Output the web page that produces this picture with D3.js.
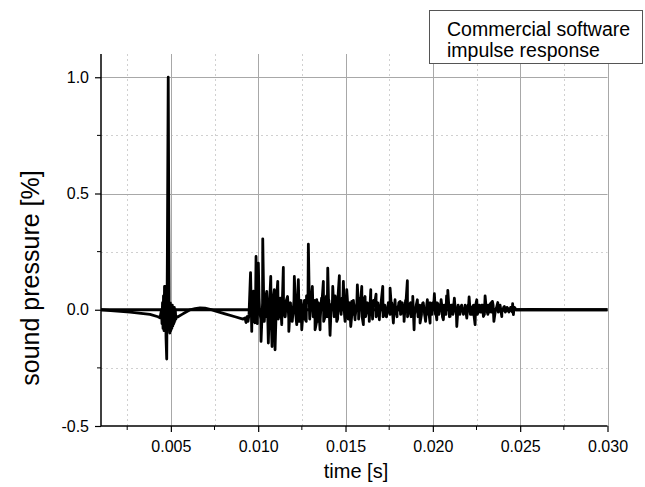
<!DOCTYPE html>
<html><head><meta charset="utf-8">
<script src="https://cdn.jsdelivr.net/npm/d3@7"></script>
<style>body{margin:0;background:#fff}svg text{font-family:"Liberation Sans",Arial,sans-serif;fill:#000}</style>
</head><body><svg id="c" width="645" height="487"></svg>
<script>
// main trace: time in milliseconds, sound pressure (fraction of peak)
const timeMs = [
1.000,2.661,3.806,4.264,4.379,4.465,4.493,4.522,4.551,4.579,4.608,4.637,4.665,4.694,4.723,4.763,4.797,4.849,4.906,4.940,
4.969,4.997,5.026,5.055,5.083,5.112,5.141,5.169,5.198,5.227,5.255,5.284,5.324,5.410,5.639,5.868,6.097,6.383,6.670,6.956,
7.242,7.529,8.101,8.674,9.132,9.247,9.304,9.361,9.419,9.476,
9.562,9.631,9.734,9.820,9.877,9.934,10.009,10.077,10.163,10.261,10.335,10.404,10.440,10.490,10.581,10.650,10.719,10.793,10.850,10.925,
10.965,11.051,11.120,11.194,11.263,11.349,11.440,11.526,11.612,11.681,11.755,11.853,11.939,12.070,12.139,12.208,12.299,12.397,12.494,12.586,
12.683,12.769,12.872,12.941,13.027,13.101,13.170,13.256,13.353,13.439,13.542,13.628,13.731,13.828,13.914,13.983,14.046,14.115,14.183,14.269,
14.344,14.401,14.498,14.573,14.648,14.745,14.802,14.877,14.928,14.974,15.071,15.146,15.231,15.300,15.358,15.432,15.547,15.678,15.747,15.833,
15.930,16.022,16.119,16.205,16.291,16.360,16.446,16.520,16.606,16.749,16.835,16.938,17.036,17.133,17.207,17.322,17.436,17.551,17.637,17.740,
17.837,17.952,18.038,18.124,18.238,18.353,18.439,18.542,18.639,18.725,18.851,18.926,19.011,19.114,19.183,19.269,19.355,19.424,19.527,19.584,
19.687,19.756,19.842,19.928,20.002,20.088,20.157,20.226,20.329,20.472,20.541,20.603,20.701,20.787,20.855,20.930,20.987,21.102,21.233,21.302,
21.371,21.474,21.617,21.732,21.846,21.943,22.018,22.075,22.161,22.247,22.333,22.419,22.516,22.619,22.705,22.791,22.894,22.992,23.077,23.163,
23.249,23.335,23.410,23.496,23.593,23.719,23.822,23.948,24.023,24.097,24.194,24.309,24.423,24.567,24.612,24.681,24.767,25.569,27.287,30.000
];
const pressure = [
0,-0.01,-0.02,-0.03,-0.035,0,-0.06,0.03,-0.08,0.06,-0.09,0.1,-0.08,0.1,-0.12,-0.212,0.2,1.0,-0.05,-0.1,
0.03,-0.09,0.02,-0.08,0.02,-0.07,0.01,-0.06,0.01,-0.05,0,-0.04,-0.03,-0.03,-0.02,-0.01,0,0.005,0.008,0.007,
0.002,-0.005,-0.018,-0.03,-0.04,-0.035,-0.055,-0.03,-0.05,-0.02,
0.16,-0.093,0.08,-0.056,0.229,-0.04,0.2,0,-0.136,0.305,-0.05,0.02,-0.03,0.079,-0.143,0.04,0.143,-0.158,0.02,0.086,
-0.172,0.05,0.122,-0.02,0.05,-0.064,0.182,-0.03,0.04,0.057,-0.093,0.02,-0.05,0.143,0,-0.064,0.129,0,-0.086,0.009,
-0.04,0.06,0.282,-0.02,0.05,0.1,-0.03,-0.086,0.043,-0.05,-0.086,0.05,0.122,-0.03,0.06,0.179,-0.02,-0.11,0.02,0.1,
-0.02,0.06,-0.05,0.06,0.147,-0.02,0.05,0.122,0,-0.05,0.086,0,0.03,-0.072,0.036,-0.02,-0.043,0.107,0,0.05,
0.1,-0.064,0.057,-0.01,0.02,-0.05,0.086,0,0.04,0.067,-0.01,-0.043,0.03,0.1,0,-0.029,0.02,0.093,0,-0.057,
0.043,-0.01,0.02,0.036,-0.01,-0.05,0.04,0.125,0,0.03,0.057,-0.086,0,0.043,-0.02,-0.057,0.01,0.029,-0.02,-0.05,
0.043,0,-0.057,0.02,0.03,0.069,0,-0.043,0.02,0.043,0,-0.043,0.02,0.06,0.083,0,-0.029,0.02,0.05,0,
-0.072,0,0.014,-0.01,0.01,-0.036,0.02,0.055,0,-0.02,0.02,-0.064,0.043,0,-0.01,0.02,-0.029,0.06,0,0.02,
-0.01,0.03,0.036,-0.05,0,0.031,0,-0.029,0,0.014,-0.005,0.005,0,0.026,-0.021,0.01,0,0.001,0,0
];
// fine ripple (samples every 0.1 ms from 9.65 ms)
const rippleStartMs = 9.65, rippleStepMs = 0.1;
const rippleValues = [
0.04,-0.05,0.03,-0.06,0.05,-0.04,0.03,-0.05,0.06,-0.04,0.02,-0.05,0.04,-0.03,0.05,
-0.04,0.03,-0.05,0.04,-0.03,0.05,-0.04,0.03,-0.05,0.04,-0.02,0.03,-0.05,0.04,-0.03,
0.04,-0.05,0.03,-0.04,0.05,-0.03,0.04,-0.05,0.03,-0.04,0.03,-0.05,0.04,-0.03,0.04,
-0.04,0.03,-0.03,0.04,-0.04,0.03,-0.02,0.04,-0.03,0.03,-0.04,0.02,-0.03,0.04,-0.03,
0.03,-0.04,0.02,-0.03,0.04,-0.03,0.03,-0.02,0.03,-0.04,0.02,-0.03,0.03,-0.02,0.04,
-0.03,0.02,-0.03,0.03,-0.02,0.03,-0.04,0.02,-0.03,0.03,-0.02,0.03,-0.03,0.02,-0.03,
0.02,-0.03,0.03,-0.02,0.02,-0.03,0.02,-0.02,0.03,-0.03,0.02,-0.02,0.03,-0.02,0.02,
-0.02,0.03,-0.02,0.02,-0.03,0.02,-0.02,0.02,-0.03,0.02,-0.02,0.03,-0.02,0.02,-0.02,
0.02,-0.02,0.02,-0.03,0.02,-0.02,0.01,-0.02,0.02,-0.02,0.02,-0.01,0.02,-0.02,0.01,
-0.02,0.02,-0.01,0.02,-0.02,0.01,-0.01,0.02,-0.01,0.01,-0.01,0.01,-0.01,0.01,-0.01,
0.01
];
// zero reference trace
const baselineTimeMs = [1.0, 30.0];
const baselineValues = [0, 0];

const xDomain = [0.001, 0.030];
const yDomain = [-0.5, 1.1];
const xMajorTicks = [0.005, 0.010, 0.015, 0.020, 0.025, 0.030];
const xMinorTicks = [0.0025, 0.0075, 0.0125, 0.0175, 0.0225, 0.0275];
const yMajorTicks = [-0.5, 0.0, 0.5, 1.0];
const yMinorTicks = [-0.25, 0.25, 0.75];
const legendLines = ["Commercial software", "impulse response"];
const xTitle = "time [s]";
const yTitle = "sound pressure  [%]";

const svg = d3.select("#c");
const L = 101, R = 607.5, T = 54, B = 426;
const x = d3.scaleLinear().domain(xDomain).range([L, R]);
const y = d3.scaleLinear().domain(yDomain).range([B, T]);

// grid
const g = svg.append("g");
g.selectAll(".gxm").data(xMinorTicks).join("line")
  .attr("x1", d => Math.round(x(d)) + 0.5).attr("x2", d => Math.round(x(d)) + 0.5)
  .attr("y1", T).attr("y2", B).attr("stroke", "#d0d0d0").attr("stroke-dasharray", "2,3");
g.selectAll(".gym").data(yMinorTicks).join("line")
  .attr("y1", d => Math.round(y(d)) + 0.5).attr("y2", d => Math.round(y(d)) + 0.5)
  .attr("x1", L).attr("x2", R).attr("stroke", "#d0d0d0").attr("stroke-dasharray", "2,3");
g.selectAll(".gx").data(xMajorTicks).join("line")
  .attr("x1", d => Math.round(x(d)) + 0.5).attr("x2", d => Math.round(x(d)) + 0.5)
  .attr("y1", T).attr("y2", B).attr("stroke", "#a8a8a8");
g.selectAll(".gy").data(yMajorTicks.filter(d => d > -0.5)).join("line")
  .attr("y1", d => Math.round(y(d)) + 0.5).attr("y2", d => Math.round(y(d)) + 0.5)
  .attr("x1", L).attr("x2", R).attr("stroke", "#a8a8a8");

// data
const mainPts = timeMs.map((t, i) => [t, pressure[i]]);
const ripplePts = rippleValues.map((v, i) => [rippleStartMs + i * rippleStepMs, v]);
const allPts = d3.sort(mainPts.concat(ripplePts), d => d[0]);
const line = d3.line().x(d => x(d[0] / 1000)).y(d => y(d[1]));
svg.append("path").datum(baselineTimeMs.map((t, i) => [t, baselineValues[i]]))
  .attr("d", line).attr("fill", "none").attr("stroke", "#000").attr("stroke-width", 2.8);
svg.append("path").datum(allPts)
  .attr("d", line).attr("fill", "none").attr("stroke", "#000").attr("stroke-width", 2.8)
  .attr("stroke-linejoin", "round");

// axes
const xAxis = svg.append("g").attr("transform", `translate(0,${B})`)
  .call(d3.axisBottom(x).tickValues(xMajorTicks).tickFormat(d => d.toFixed(3)).tickSize(6).tickPadding(9));
xAxis.append("g").selectAll("line").data(xMinorTicks).join("line")
  .attr("x1", d => x(d)).attr("x2", d => x(d)).attr("y1", 0).attr("y2", 4).attr("stroke", "#000");
const yAxis = svg.append("g").attr("transform", `translate(${L},0)`)
  .call(d3.axisLeft(y).tickValues(yMajorTicks).tickFormat(d => d.toFixed(1)).tickSize(6).tickPadding(6));
yAxis.append("g").selectAll("line").data(yMinorTicks).join("line")
  .attr("x1", 0).attr("x2", -4).attr("y1", d => y(d)).attr("y2", d => y(d)).attr("stroke", "#000");
[xAxis, yAxis].forEach(a => {
  a.select(".domain").attr("stroke-width", 1.5);
  a.selectAll("text").style("font-size", "16px").attr("font-family", null);
  a.selectAll(".tick line").attr("stroke-width", 1.2);
});
xAxis.select(".domain").attr("d", `M${L},0H${R}`);
yAxis.select(".domain").attr("d", `M0,${T}V${B}`);

// titles
svg.append("text").attr("x", 356).attr("y", 478).attr("text-anchor", "middle")
  .style("font-size", "20px").text(xTitle);
svg.append("text").attr("transform", `translate(39,278) rotate(-90)`)
  .attr("text-anchor", "middle").style("font-size", "25px").text(yTitle);

// legend
const lg = svg.append("g");
lg.append("rect").attr("x", 429.5).attr("y", 10.5).attr("width", 213).attr("height", 53)
  .attr("fill", "#fff").attr("stroke", "#555");
lg.selectAll("text").data(legendLines).join("text")
  .attr("x", 447).attr("y", (d, i) => 36 + i * 21).style("font-size", "19.5px").text(d => d);
</script></body></html>
